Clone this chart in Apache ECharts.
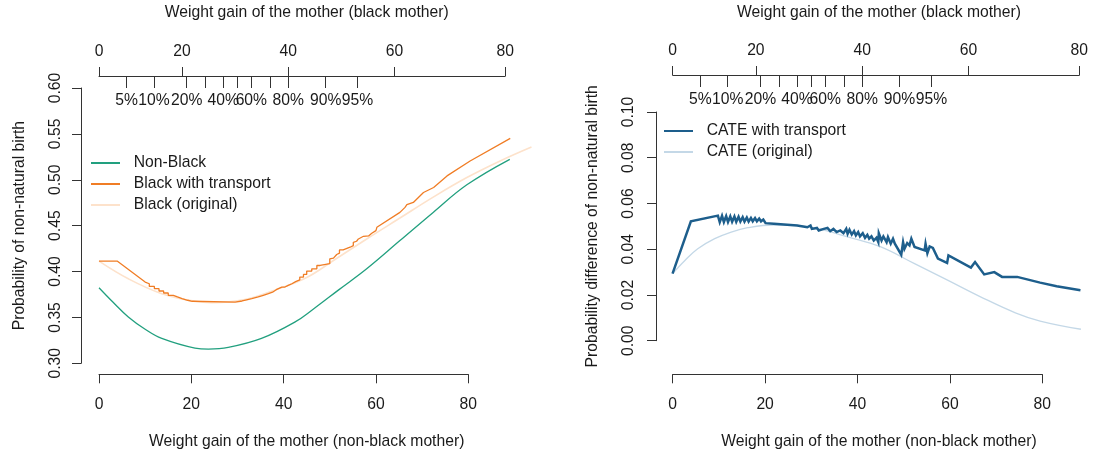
<!DOCTYPE html>
<html>
<head>
<meta charset="utf-8">
<script src="https://cdn.jsdelivr.net/npm/echarts@6/dist/echarts.min.js"></script>
<style>
html,body{margin:0;padding:0;background:#fff;}
#c{width:1102px;height:457px;}
</style>
</head>
<body>
<div id="c"></div>
<script>
// ---------- Data (x = weight gain of non-black mother) ----------
const nonBlack = [[0,0.3824],[3,0.3668],[6.35,0.3505],[10,0.3371],[13.6,0.3271],[20.8,0.3166],[23.7,0.3155],[28.0,0.3173],[35.2,0.3271],[42.5,0.3451],[46.4,0.3589],[52,0.3803],[58.0,0.4030],[65.2,0.4337],[72.4,0.4644],[79.7,0.4945],[89.0,0.5223]];
const blackOriginal = [[0,0.4113],[6.35,0.3921],[13.6,0.3759],[20.8,0.3676],[24.4,0.3661],[31.6,0.3694],[38.9,0.3813],[45,0.3935],[50.8,0.4120],[58.0,0.4355],[65.2,0.4583],[72.5,0.4814],[79.7,0.5024],[86.9,0.5205],[93.7,0.5357]];
const blackTransport = [[0,0.4113],[4.0,0.4113],[10.0,0.3885],
[10.0,0.3867],[10.9,0.3867],[10.9,0.3838],[12.0,0.3838],[12.0,0.3813],[13.0,0.3813],[13.0,0.3788],[14.0,0.3788],[14.0,0.3766],[15.0,0.3766],[15.0,0.3741],[16.1,0.3741],[16.1,0.3723],[17.0,0.3723],[17.0,0.3705],[18.0,0.3705],[18.0,0.3687],[19.2,0.3687],[19.2,0.3676],[20.2,0.3676],[20.2,0.3666],[29.5,0.3666],[29.5,0.3679],[31.0,0.3679],[31.0,0.3692],[32.0,0.3692],[32.0,0.3705],[33.1,0.3705],[33.1,0.3723],[34.5,0.3723],[34.5,0.3741],[35.6,0.3741],[35.6,0.3759],[36.7,0.3759],[36.7,0.3775],[37.6,0.3775],[37.6,0.3795],[38.4,0.3802],[38.8,0.3802],[38.8,0.3822],[39.6,0.3831],[40.3,0.3831],[40.3,0.3849],[41.0,0.3849],[41.0,0.3867],[41.8,0.3867],[41.8,0.3885],[42.6,0.3890],[42.6,0.3905],[43.5,0.3910],[43.5,0.3940],[44.3,0.3940],[44.3,0.3969],[45.0,0.3969],[45.0,0.4005],[46.1,0.4005],[46.1,0.4030],[47.2,0.4030],[47.2,0.4066],[47.9,0.4066],[47.9,0.4085],[50.0,0.4085],[50.0,0.4139],[50.8,0.4146],[51.1,0.4164],[51.5,0.4186],[52.1,0.4200],[52.1,0.4236],[52.9,0.4236],[54.4,0.4265],[55.1,0.4283],[55.1,0.4319],[55.8,0.4330],[56.2,0.4355],[56.6,0.4373],[57.3,0.4384],[58.4,0.4388],[59.1,0.4417],[60.0,0.4446],[60.2,0.4482],[65.2,0.4645],[66.3,0.4699],[66.7,0.4728],[68.1,0.4753],[70.3,0.4861],[72.5,0.4916],[75.4,0.5042],[80.4,0.5205],[89.1,0.5451]];

const cateOriginal = [[0,0.0293],[2.7,0.0351],[5.5,0.0402],[9.2,0.0446],[12.8,0.0475],[16.4,0.0494],[22.0,0.0506],[27.2,0.0504],[31.2,0.0492],[38.4,0.0453],[45.2,0.0412],[52.8,0.0337],[60.0,0.0265],[67.2,0.0192],[74.8,0.0122],[80.2,0.0086],[89.1,0.0050]];
const cateTransport = [[0,0.0293],[4.0,0.0522],[9.9,0.0547],
[10.3,0.0518],[10.8,0.0546],[11.2,0.0519],[11.7,0.0545],[12.1,0.0519],[12.6,0.0544],[13.0,0.0520],[13.5,0.0543],[13.9,0.0520],[14.4,0.0542],[14.8,0.0521],[15.3,0.0540],[15.7,0.0521],[16.2,0.0539],[16.6,0.0521],[17.1,0.0537],[17.5,0.0522],[18.0,0.0536],[18.4,0.0522],[18.9,0.0534],[19.3,0.0522],[19.8,0.0530],
[20.3,0.0514],[22.1,0.0511],[27.2,0.0504],[29.4,0.0496],[30.1,0.0504],[30.4,0.0489],[31.5,0.0493],[31.9,0.0482],
[33.0,0.0489],[33.3,0.0482],[33.8,0.0493],[34.4,0.0479],[35.1,0.0489],[35.8,0.0475],[36.6,0.0482],[37.3,0.0470],[37.9,0.0489],[38.2,0.0467],[38.6,0.0485],[39.1,0.0464],[39.6,0.0479],[40.0,0.0460],[40.5,0.0475],[40.9,0.0456],[41.5,0.0470],[42.0,0.0450],[42.5,0.0463],[42.9,0.0446],[43.4,0.0456],[43.9,0.0438],[44.5,0.0450],[44.9,0.0431],
[45.0,0.0470],[45.6,0.0438],[46.0,0.0456],[46.7,0.0431],[47.0,0.0453],[47.6,0.0424],[48.1,0.0446],[48.5,0.0424],[49.9,0.0376],[50.3,0.0431],[50.6,0.0402],[51.2,0.0427],[51.7,0.0417],[52.1,0.0446],[52.8,0.0410],[55.0,0.0395],[55.2,0.0424],[55.6,0.0383],[56.1,0.0412],[56.8,0.0406],[57.9,0.0359],[59.9,0.0340],[60.2,0.0373],[65.1,0.0320],[66.0,0.0344],[68.0,0.0290],[70.2,0.0300],[71.9,0.0279],[75.2,0.0279],[80.2,0.0254],[83.8,0.0238],[89.0,0.0221]];

// Top axis: black-mother weight gain ticks placed at their transported position on the non-black scale
const topMajorLabels = ["0","20","40","60","80"];
const topMajorPos = [0, 18.0, 41.0, 64.0, 88.0];
// Quantile ticks of the weight gain distribution
const pctLabels = ["5%","10%","20%","30%","40%","50%","60%","70%","80%","90%","95%"];
const pctPos = [6.0, 11.9, 19.0, 23.0, 26.9, 30.0, 33.0, 37.1, 41.0, 49.1, 56.0];
const pctShown = ["5%","10%","20%","40%","60%","80%","90%","95%"];

const bottomTitle = "Weight gain of the mother (non-black mother)";
const topTitle = "Weight gain of the mother (black mother)";
const leftYTitle = "Probability of non-natural birth";
const rightYTitle = "Probability difference of non-natural birth";

// ---------- Styles ----------
const FONT = "Liberation Sans, Arial, Helvetica, sans-serif";
const FS = 15.7;
const TXT = "#1a1a1a";
const AX = {color: "#333", width: 1};
const C_GREEN = "#22a07f", C_ORANGE = "#f07d25", C_LORANGE = "#fde2cb", C_DBLUE = "#1d5e8c", C_LBLUE = "#c4d8e7";

function lab(v, positions, labels){
  let best = 0, d = 1e9;
  positions.forEach((p,i)=>{ if (Math.abs(p-v) < d){ d = Math.abs(p-v); best = i; } });
  return labels[best];
}
const pctShownPos = pctLabels.map((l,i)=>pctShown.includes(l)?pctPos[i]:null).filter(v=>v!==null);

function panelAxes(gD, gB, gT, gP, xmin, xmax, topGapName, bottomGapName){
  return [
    {gridIndex:gD, type:'value', position:'bottom', min:xmin, max:xmax,
     axisLine:{show:false, onZero:false}, axisTick:{show:false}, axisLabel:{show:false}, splitLine:{show:false},
     name:bottomTitle, nameLocation:'middle', nameGap:bottomGapName,
     nameTextStyle:{fontSize:FS, color:TXT, fontFamily:FONT}},
    {gridIndex:gD, type:'value', position:'top', min:xmin, max:xmax,
     axisLine:{show:false, onZero:false}, axisTick:{show:false}, axisLabel:{show:false}, splitLine:{show:false},
     name:topTitle, nameLocation:'middle', nameGap:topGapName,
     nameTextStyle:{fontSize:FS, color:TXT, fontFamily:FONT}},
    {gridIndex:gB, type:'value', position:'bottom', min:0, max:80, interval:20,
     axisLine:{show:true, onZero:false, lineStyle:AX}, axisTick:{show:true, length:9, lineStyle:AX},
     axisLabel:{fontSize:FS, color:TXT, fontFamily:FONT, margin:22}, splitLine:{show:false}},
    {gridIndex:gT, type:'value', position:'top', min:0, max:88,
     axisLine:{show:true, onZero:false, lineStyle:AX},
     axisTick:{show:true, length:9, lineStyle:AX, customValues:topMajorPos},
     axisLabel:{fontSize:FS, color:TXT, fontFamily:FONT, margin:16, customValues:topMajorPos,
       formatter:(v)=>lab(v, topMajorPos, topMajorLabels)}, splitLine:{show:false}},
    {gridIndex:gP, type:'value', position:'top', min:0, max:88,
     axisLine:{show:false, onZero:false},
     axisTick:{show:true, inside:true, length:12, lineStyle:AX, customValues:pctPos},
     axisLabel:{inside:true, fontSize:FS, color:TXT, fontFamily:FONT, margin:17, customValues:pctShownPos,
       formatter:(v)=>lab(v, pctPos, pctLabels)}, splitLine:{show:false}}
  ];
}

const hiddenY = (g)=>({gridIndex:g, type:'value', show:false, min:0, max:1, splitLine:{show:false}});

const option = {
  animation:false,
  backgroundColor:'#fff',
  textStyle:{fontFamily:FONT},
  grid:[
    {left:81, top:86.7, width:451.4, height:276.6},
    {left:99, top:300, width:369.3, height:74.3},
    {left:99, top:76, width:406.2, height:20},
    {left:656, top:111, width:449.6, height:229.7},
    {left:672.7, top:300, width:369.6, height:74.3},
    {left:672.7, top:75, width:406.6, height:20},
    {left:99, top:76, width:406.2, height:20},
    {left:672.7, top:75, width:406.6, height:20}
  ],
  xAxis:[].concat(
    panelAxes(0,1,2,6,-3.9,93.9,67,70),
    panelAxes(3,4,5,7,-3.61,93.7,91,93)
  ),
  yAxis:[
    {gridIndex:0, type:'value', min:0.30, max:0.60, interval:0.05,
     axisLine:{show:true, onZero:false, lineStyle:AX}, axisTick:{show:true, length:9, lineStyle:AX},
     axisLabel:{rotate:90, fontSize:FS, color:TXT, fontFamily:FONT, margin:17, formatter:(v)=>v.toFixed(2)},
     splitLine:{show:false},
     name:leftYTitle, nameLocation:'middle', nameGap:53,
     nameTextStyle:{fontSize:FS, color:TXT, fontFamily:FONT}},
    hiddenY(1), hiddenY(2),
    {gridIndex:3, type:'value', min:0, max:0.10, interval:0.02,
     axisLine:{show:true, onZero:false, lineStyle:AX}, axisTick:{show:true, length:9, lineStyle:AX},
     axisLabel:{rotate:90, fontSize:FS, color:TXT, fontFamily:FONT, margin:19, formatter:(v)=>v.toFixed(2)},
     splitLine:{show:false},
     name:rightYTitle, nameLocation:'middle', nameGap:55,
     nameTextStyle:{fontSize:FS, color:TXT, fontFamily:FONT}},
    hiddenY(4), hiddenY(5), hiddenY(6), hiddenY(7)
  ],
  legend:[
    {left:90, top:155, padding:0, orient:'vertical', itemWidth:29, itemHeight:14, itemGap:5,
     itemStyle:{opacity:0},
     data:['Non-Black','Black with transport','Black (original)'],
     formatter:(n)=>'  '+n,
     textStyle:{fontSize:FS, color:TXT, fontFamily:FONT}},
    {left:663, top:123, padding:0, orient:'vertical', itemWidth:29, itemHeight:14, itemGap:5,
     itemStyle:{opacity:0},
     data:['CATE with transport','CATE (original)'],
     formatter:(n)=>'  '+n,
     textStyle:{fontSize:FS, color:TXT, fontFamily:FONT}}
  ],
  series:[
    {name:'Black (original)', type:'line', xAxisIndex:0, yAxisIndex:0, data:blackOriginal, smooth:0.4,
     symbol:'none', lineStyle:{color:C_LORANGE, width:1.6}, itemStyle:{color:C_LORANGE}, z:2},
    {name:'Non-Black', type:'line', xAxisIndex:0, yAxisIndex:0, data:nonBlack, smooth:0.4,
     symbol:'none', lineStyle:{color:C_GREEN, width:1.3}, itemStyle:{color:C_GREEN}, z:3},
    {name:'Black with transport', type:'line', xAxisIndex:0, yAxisIndex:0, data:blackTransport,
     symbol:'none', lineStyle:{color:C_ORANGE, width:1.3}, itemStyle:{color:C_ORANGE}, z:4},
    {name:'CATE (original)', type:'line', xAxisIndex:5, yAxisIndex:3, data:cateOriginal, smooth:0.4,
     symbol:'none', lineStyle:{color:C_LBLUE, width:1.3}, itemStyle:{color:C_LBLUE}, z:2},
    {name:'CATE with transport', type:'line', xAxisIndex:5, yAxisIndex:3, data:cateTransport,
     symbol:'none', lineStyle:{color:C_DBLUE, width:2.5, join:'miter'}, itemStyle:{color:C_DBLUE}, z:3}
  ]
};

const chart = echarts.init(document.getElementById('c'), null, {renderer:'canvas'});
chart.setOption(option);
</script>
</body>
</html>
